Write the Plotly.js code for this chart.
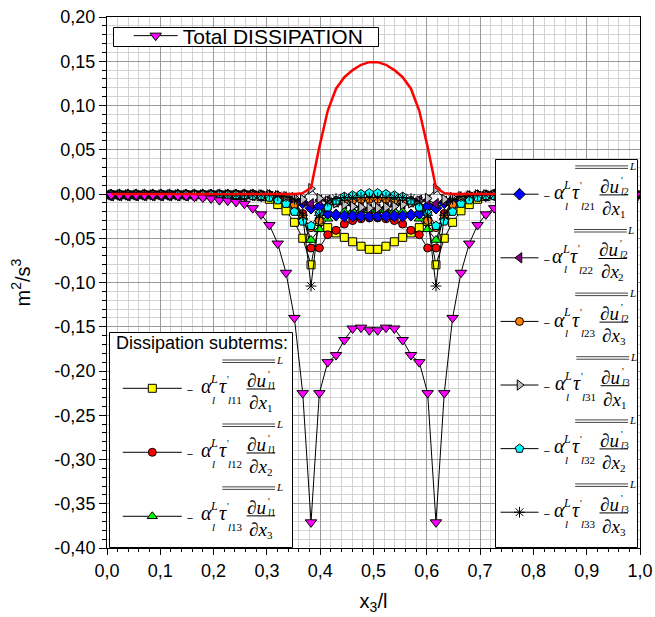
<!DOCTYPE html>
<html><head><meta charset="utf-8">
<script src="https://cdn.plot.ly/plotly-3.0.1.min.js"></script>
<style>html,body{margin:0;padding:0;background:#fff}#chart{width:655px;height:617px}</style>
</head><body><div id="chart"></div>
<script>
// ---------- data ----------
const x3 = [0.0078,0.0234,0.0391,0.0547,0.0703,0.0859,0.1016,0.1172,0.1328,0.1484,0.1641,0.1797,0.1953,0.2109,0.2266,0.2422,
 0.2578,0.2734,0.2891,0.3047,0.3203,0.3359,0.3516,0.3672,0.3828,0.3984,0.4141,0.4297,0.4453,0.4609,0.4766,0.4922,
 0.5078,0.5234,0.5391,0.5547,0.5703,0.5859,0.6016,0.6172,0.6328,0.6484,0.6641,0.6797,0.6953,0.7109,0.7266,0.7422,
 0.7578,0.7734,0.7891,0.8047,0.8203,0.8359,0.8516,0.8672,0.8828,0.8984,0.9141,0.9297,0.9453,0.9609,0.9766,0.9922];

const totalDissipation = [-0.001,-0.001,-0.001,-0.001,-0.001,-0.001,-0.001,-0.001,-0.002,-0.002,-0.003,-0.004,-0.005,-0.007,-0.0075,-0.009,
 -0.011,-0.016,-0.023,-0.035,-0.056,-0.089,-0.140,-0.225,-0.371,-0.225,-0.190,-0.182,-0.165,-0.152,-0.151,-0.154,
 -0.154,-0.151,-0.152,-0.165,-0.182,-0.190,-0.225,-0.371,-0.225,-0.140,-0.089,-0.056,-0.035,-0.023,-0.016,-0.011,
 -0.009,-0.0075,-0.007,-0.005,-0.004,-0.003,-0.002,-0.002,-0.001,-0.001,-0.001,-0.001,-0.001,-0.001,-0.001,-0.001];

const redCurve = [0,0,0,0,0,0,0,0,0,0,0,0,0,0,0,0,
 0,0,0,0,0,0,0,0.001,0.007,0.053,0.094,0.119,0.132,0.140,0.146,0.149,
 0.149,0.146,0.140,0.132,0.119,0.094,0.053,0.007,0.001,0,0,0,0,0,0,0,
 0,0,0,0,0,0,0,0,0,0,0,0,0,0,0,0];

const tau111 = [-0.001,-0.001,-0.001,-0.001,-0.001,-0.001,-0.001,-0.001,-0.001,-0.001,-0.001,-0.001,-0.001,-0.001,-0.001,-0.001,
 -0.001,-0.001,-0.003,-0.006,-0.012,-0.019,-0.032,-0.050,-0.080,-0.031,-0.038,-0.044,-0.049,-0.054,-0.059,-0.0625,
 -0.0625,-0.059,-0.054,-0.049,-0.044,-0.038,-0.031,-0.080,-0.050,-0.032,-0.019,-0.012,-0.006,-0.003,-0.001,-0.001,
 -0.001,-0.001,-0.001,-0.001,-0.001,-0.001,-0.001,-0.001,-0.001,-0.001,-0.001,-0.001,-0.001,-0.001,-0.001,-0.001];

const tau112 = [-0.001,-0.001,-0.001,-0.001,-0.001,-0.001,-0.001,-0.001,-0.001,-0.001,-0.001,-0.001,-0.001,-0.001,-0.001,-0.001,
 -0.001,-0.001,-0.001,-0.001,-0.003,-0.006,-0.012,-0.022,-0.061,-0.061,-0.046,-0.041,-0.034,-0.030,-0.028,-0.027,
 -0.027,-0.028,-0.030,-0.034,-0.041,-0.046,-0.061,-0.061,-0.022,-0.012,-0.006,-0.003,-0.001,-0.001,-0.001,-0.001,
 -0.001,-0.001,-0.001,-0.001,-0.001,-0.001,-0.001,-0.001,-0.001,-0.001,-0.001,-0.001,-0.001,-0.001,-0.001,-0.001];

const tau113 = [-0.001,-0.001,-0.001,-0.001,-0.001,-0.001,-0.001,-0.001,-0.001,-0.001,-0.001,-0.001,-0.001,-0.001,-0.001,-0.001,
 -0.001,-0.001,-0.001,-0.001,-0.002,-0.004,-0.010,-0.026,-0.052,-0.040,-0.028,-0.022,-0.020,-0.019,-0.018,-0.018,
 -0.018,-0.018,-0.019,-0.020,-0.022,-0.028,-0.040,-0.052,-0.026,-0.010,-0.004,-0.002,-0.001,-0.001,-0.001,-0.001,
 -0.001,-0.001,-0.001,-0.001,-0.001,-0.001,-0.001,-0.001,-0.001,-0.001,-0.001,-0.001,-0.001,-0.001,-0.001,-0.001];

const tau121 = [-0.001,-0.001,-0.001,-0.001,-0.001,-0.001,-0.001,-0.001,-0.001,-0.001,-0.001,-0.001,-0.001,-0.001,-0.001,-0.001,
 -0.001,-0.001,-0.002,-0.002,-0.003,-0.005,-0.007,-0.010,-0.016,-0.014,-0.022,-0.024,-0.025,-0.025,-0.025,-0.025,
 -0.025,-0.025,-0.025,-0.025,-0.024,-0.022,-0.014,-0.016,-0.010,-0.007,-0.005,-0.003,-0.002,-0.002,-0.001,-0.001,
 -0.001,-0.001,-0.001,-0.001,-0.001,-0.001,-0.001,-0.001,-0.001,-0.001,-0.001,-0.001,-0.001,-0.001,-0.001,-0.001];

const tau122 = [-0.002,-0.002,-0.002,-0.002,-0.002,-0.002,-0.002,-0.002,-0.002,-0.002,-0.002,-0.002,-0.002,-0.002,-0.002,-0.002,
 -0.002,-0.002,-0.002,-0.003,-0.004,-0.005,-0.006,-0.008,-0.011,-0.007,-0.007,-0.009,-0.011,-0.012,-0.015,-0.017,
 -0.017,-0.015,-0.012,-0.011,-0.009,-0.007,-0.007,-0.011,-0.008,-0.006,-0.005,-0.004,-0.003,-0.002,-0.002,-0.002,
 -0.002,-0.002,-0.002,-0.002,-0.002,-0.002,-0.002,-0.002,-0.002,-0.002,-0.002,-0.002,-0.002,-0.002,-0.002,-0.002];

const tau123 = [-0.001,-0.001,-0.001,-0.001,-0.001,-0.001,-0.001,-0.001,-0.001,-0.001,-0.001,-0.001,-0.001,-0.001,-0.001,-0.001,
 -0.001,-0.001,-0.001,-0.001,-0.002,-0.005,-0.012,-0.026,-0.038,-0.030,-0.015,-0.010,-0.008,-0.007,-0.006,-0.006,
 -0.006,-0.006,-0.007,-0.008,-0.010,-0.015,-0.030,-0.038,-0.026,-0.012,-0.005,-0.002,-0.001,-0.001,-0.001,-0.001,
 -0.001,-0.001,-0.001,-0.001,-0.001,-0.001,-0.001,-0.001,-0.001,-0.001,-0.001,-0.001,-0.001,-0.001,-0.001,-0.001];

const tau131 = [-0.001,-0.001,-0.001,-0.001,-0.001,-0.001,-0.001,-0.001,-0.001,-0.001,-0.001,-0.001,-0.001,-0.001,-0.001,-0.001,
 -0.001,-0.001,-0.001,-0.001,-0.002,-0.003,-0.004,-0.006,0.006,-0.005,-0.008,-0.010,-0.012,-0.014,-0.015,-0.016,
 -0.016,-0.015,-0.014,-0.012,-0.010,-0.008,-0.005,0.006,-0.006,-0.004,-0.003,-0.002,-0.001,-0.001,-0.001,-0.001,
 -0.001,-0.001,-0.001,-0.001,-0.001,-0.001,-0.001,-0.001,-0.001,-0.001,-0.001,-0.001,-0.001,-0.001,-0.001,-0.001];

const tau132 = [-0.001,-0.001,-0.001,-0.001,-0.001,-0.001,-0.001,-0.001,-0.001,-0.001,-0.001,-0.001,-0.001,-0.001,-0.001,-0.001,
 -0.001,-0.002,-0.002,-0.004,-0.007,-0.011,-0.020,-0.031,-0.036,-0.022,-0.015,-0.0075,-0.003,-0.0015,0.000,0.001,
 0.001,0.000,-0.0015,-0.003,-0.0075,-0.015,-0.022,-0.036,-0.031,-0.020,-0.011,-0.007,-0.004,-0.002,-0.002,-0.001,
 -0.001,-0.001,-0.001,-0.001,-0.001,-0.001,-0.001,-0.001,-0.001,-0.001,-0.001,-0.001,-0.001,-0.001,-0.001,-0.001];

const tau133 = [-0.001,-0.001,-0.001,-0.001,-0.001,-0.001,-0.001,-0.001,-0.001,-0.001,-0.001,-0.001,-0.001,-0.001,-0.001,-0.001,
 -0.001,-0.001,-0.001,-0.001,-0.002,-0.003,-0.006,-0.024,-0.104,-0.024,-0.008,-0.005,-0.004,-0.004,-0.004,-0.004,
 -0.004,-0.004,-0.004,-0.004,-0.005,-0.008,-0.024,-0.104,-0.024,-0.006,-0.003,-0.002,-0.001,-0.001,-0.001,-0.001,
 -0.001,-0.001,-0.001,-0.001,-0.001,-0.001,-0.001,-0.001,-0.001,-0.001,-0.001,-0.001,-0.001,-0.001,-0.001,-0.001];

const yTickVals = [0.20,0.15,0.10,0.05,0.00,-0.05,-0.10,-0.15,-0.20,-0.25,-0.30,-0.35,-0.40];
const yTickText = ['0,20','0,15','0,10','0,05','0,00','-0,05','-0,10','-0,15','-0,20','-0,25','-0,30','-0,35','-0,40'];
const xTickVals = [0,0.1,0.2,0.3,0.4,0.5,0.6,0.7,0.8,0.9,1.0];
const xTickText = ['0,0','0,1','0,2','0,3','0,4','0,5','0,6','0,7','0,8','0,9','1,0'];

const totalLabel = 'Total DISSIPATION';
const subtermsTitle = 'Dissipation subterms:';
const tauIdx = ['11','12','13','21','22','23','31','32','33'];
const uIdx = ['1','1','1','2','2','2','3','3','3'];
const xIdx = ['1','2','3','1','2','3','1','2','3'];

// ---------- geometry helpers (plot area 107..640 x 17..548 px) ----------
const L0 = 107, PW = 533, T0 = 17, PH = 531;
const px = v => (v - L0) / PW;
const py = v => (T0 + PH - v) / PH;

const SERIF = 'Liberation Serif, Times New Roman, serif';
const SANS = 'Liberation Sans, Arial, sans-serif';
// legend entry text: the leading minus sign of each formula, on the middle of three lines
const MINUS_ENTRY = '\u00a0<br><span style="font-size:11px">\u2212</span><br>\u00a0';

function sub(y, symbol, color, legendId, size) {
  return {x: x3, y: y, type: 'scatter', mode: 'lines+markers', name: MINUS_ENTRY, legend: legendId,
    line: {color: '#000', width: 1},
    marker: {symbol: symbol, size: size || 8, color: color, line: {color: '#000', width: 1}}};
}

const traces = [
  sub(tau111, 'square', '#ffff00', 'legend2', 8),
  sub(tau112, 'circle', '#ff0000', 'legend2', 8),
  sub(tau113, 'triangle-up', '#00ff00', 'legend2', 9),
  sub(tau121, 'diamond', '#0000ff', 'legend3', 9),
  sub(tau122, 'triangle-left', '#800080', 'legend3', 9),
  sub(tau123, 'circle', '#ff8000', 'legend3', 8),
  sub(tau131, 'triangle-right', '#c0c0c0', 'legend3', 9),
  sub(tau132, 'pentagon', '#00ffff', 'legend3', 9),
  {x: x3, y: tau133, type: 'scatter', mode: 'lines+markers', name: MINUS_ENTRY, legend: 'legend3',
   line: {color: '#000', width: 1}, marker: {symbol: 'asterisk-open', size: 9, color: '#000', line: {color: '#000', width: 1}}},
  {x: x3, y: totalDissipation, type: 'scatter', mode: 'lines+markers', name: totalLabel, legend: 'legend',
   line: {color: '#000', width: 1}, marker: {symbol: 'triangle-down', size: 10, color: '#ff00ff', line: {color: '#000', width: 1}}},
  {x: x3, y: redCurve, type: 'scatter', mode: 'lines', showlegend: false, line: {color: '#ff0000', width: 2.5}}
];

function box(x0, y0, x1, y1) {
  return {type: 'rect', xref: 'paper', yref: 'paper', x0: px(x0), x1: px(x1), y0: py(y0), y1: py(y1),
    line: {color: '#000', width: 1}, fillcolor: '#fff', layer: 'above'};
}

const layout = {
  width: 655, height: 617,
  margin: {l: 107, r: 15, t: 17, b: 69, pad: 0},
  paper_bgcolor: '#fff', plot_bgcolor: '#fff',
  font: {family: SANS, size: 18, color: '#000'},
  xaxis: {range: [0, 1], tickmode: 'array', tickvals: xTickVals, ticktext: xTickText,
    ticks: 'outside', ticklen: 6, tickcolor: '#000', showline: true, linecolor: '#000', linewidth: 1, mirror: true,
    showgrid: true, gridcolor: '#9a9a9a', gridwidth: 1, zeroline: false,
    minor: {tickmode: 'linear', tick0: 0, dtick: 0.02, showgrid: true, gridcolor: '#d2d2d2', gridwidth: 1, ticks: 'outside', ticklen: 3, tickcolor: '#000'},
    tickfont: {size: 18}, title: {text: 'x<sub>3</sub>/l', font: {size: 20}, standoff: 14}},
  yaxis: {range: [-0.4, 0.2], tickmode: 'array', tickvals: yTickVals, ticktext: yTickText,
    ticks: 'outside', ticklen: 7, tickcolor: '#000', showline: true, linecolor: '#000', linewidth: 1, mirror: true,
    showgrid: true, gridcolor: '#9a9a9a', gridwidth: 1, zeroline: false,
    minor: {tickmode: 'linear', tick0: 0, dtick: 0.01, showgrid: true, gridcolor: '#d2d2d2', gridwidth: 1, ticks: 'outside', ticklen: 4, tickcolor: '#000'},
    tickfont: {size: 18}, title: {text: 'm<sup>2</sup>/s<sup>3</sup>', font: {size: 20}, standoff: 18}},
  showlegend: true,
  legend: {x: px(128.7), xanchor: 'left', y: py(15.5), yanchor: 'top', bgcolor: 'rgba(0,0,0,0)', borderwidth: 0,
    font: {family: SANS, size: 21}, itemwidth: 44, traceorder: 'normal'},
  legend2: {x: px(117.8), xanchor: 'left', y: py(351.3), yanchor: 'top', bgcolor: 'rgba(0,0,0,0)', borderwidth: 0,
    font: {family: SANS, size: 15.64, color: '#000'}, itemwidth: 59, traceorder: 'normal'},
  legend3: {x: px(495.5), xanchor: 'left', y: py(157.4), yanchor: 'top', bgcolor: 'rgba(0,0,0,0)', borderwidth: 0,
    font: {family: SANS, size: 15.54, color: '#000'}, itemwidth: 38, traceorder: 'normal'},
  shapes: [box(113.5, 27.5, 378.5, 46.5), box(109.5, 332.5, 292.5, 547.5), box(495.5, 159.5, 637.5, 547.5)],
  annotations: [{xref: 'paper', yref: 'paper', x: px(114), y: py(343), xanchor: 'left', yanchor: 'middle',
    text: subtermsTitle, showarrow: false, font: {family: SANS, size: 18, color: '#000'}}]
};

function formula(mx, my, k, leftBox, anns, shps) {
  const X0 = mx + (leftBox ? 37.3 : 23);
  const A = (text, x, y, size, anchor) => anns.push({xref: 'paper', yref: 'paper', x: px(x), y: py(y), text: text,
    showarrow: false, xanchor: anchor || 'left', yanchor: 'middle', borderpad: 0,
    font: {family: SERIF, size: size, color: '#000'}});
  const Ln = (x0, x1, y, color) => shps.push({type: 'line', xref: 'paper', yref: 'paper',
    x0: px(x0), x1: px(x1), y0: py(y), y1: py(y), line: {color: color, width: 1}, layer: 'above'});
  A('<i>\u03b1</i>', X0 + 10, my - 1.8, 20);
  A('<i>L</i>', X0 + 24.5, my - 9, 12, 'center');
  A('<i>l</i>', X0 + 24, my + 11.5, 11, 'center');
  A('<i>\u03c4</i>', X0 + 33, my - 1.8, 20, 'center');
  A("'", X0 + 38, my - 9, 10, 'center');
  A('<i>l</i>' + tauIdx[k], X0 + 37, my + 12, 11);
  A('\u2202<i>u</i>', X0 + 56.5, my - 8, 19);
  A("'", X0 + 79.5, my - 14, 10, 'center');
  A('<i>l</i>' + uIdx[k], X0 + 77.5, my - 3, 10);
  A('\u2202<i>x</i>', X0 + 58.5, my + 14, 19);
  A(xIdx[k], X0 + 76, my + 19.5, 11);
  A('<i>L</i>', X0 + 89.5, my - 28, 11, 'center');
  Ln(X0 + 57, X0 + 85.5, my + 0.7, '#000');
  Ln(X0 + 32.7, X0 + 85.5, my - 28.3, '#444');
  Ln(X0 + 32.7, X0 + 85.5, my - 25.8, '#444');
}

const gd = document.getElementById('chart');
Plotly.newPlot(gd, traces, layout, {staticPlot: true}).then(function () {
  const rect = gd.getBoundingClientRect();
  function centers(cls, fallback) {
    const out = [];
    const lg = gd.querySelector('g.' + cls);
    if (lg) {
      lg.querySelectorAll('g.traces').forEach(function (t) {
        const p = t.querySelector('path.scatterpts');
        if (p) {
          const r = p.getBoundingClientRect();
          out.push([r.left + r.width / 2 - rect.left, r.top + r.height / 2 - rect.top]);
        }
      });
    }
    return out.length === fallback.length ? out : fallback;
  }
  const c2 = centers('legend2', [[152.3, 388.3], [152.3, 452.6], [152.3, 516.9]]);
  const c3 = centers('legend3', [[519.5, 194], [519.5, 257.6], [519.5, 321.2], [519.5, 384.8], [519.5, 448.4], [519.5, 512]]);
  const anns = layout.annotations.slice();
  const shps = layout.shapes.slice();
  c2.forEach(function (c, i) { formula(c[0], c[1], i, true, anns, shps); });
  c3.forEach(function (c, i) { formula(c[0], c[1], i + 3, false, anns, shps); });
  return Plotly.relayout(gd, {annotations: anns, shapes: shps});
});
</script>
</body></html>
